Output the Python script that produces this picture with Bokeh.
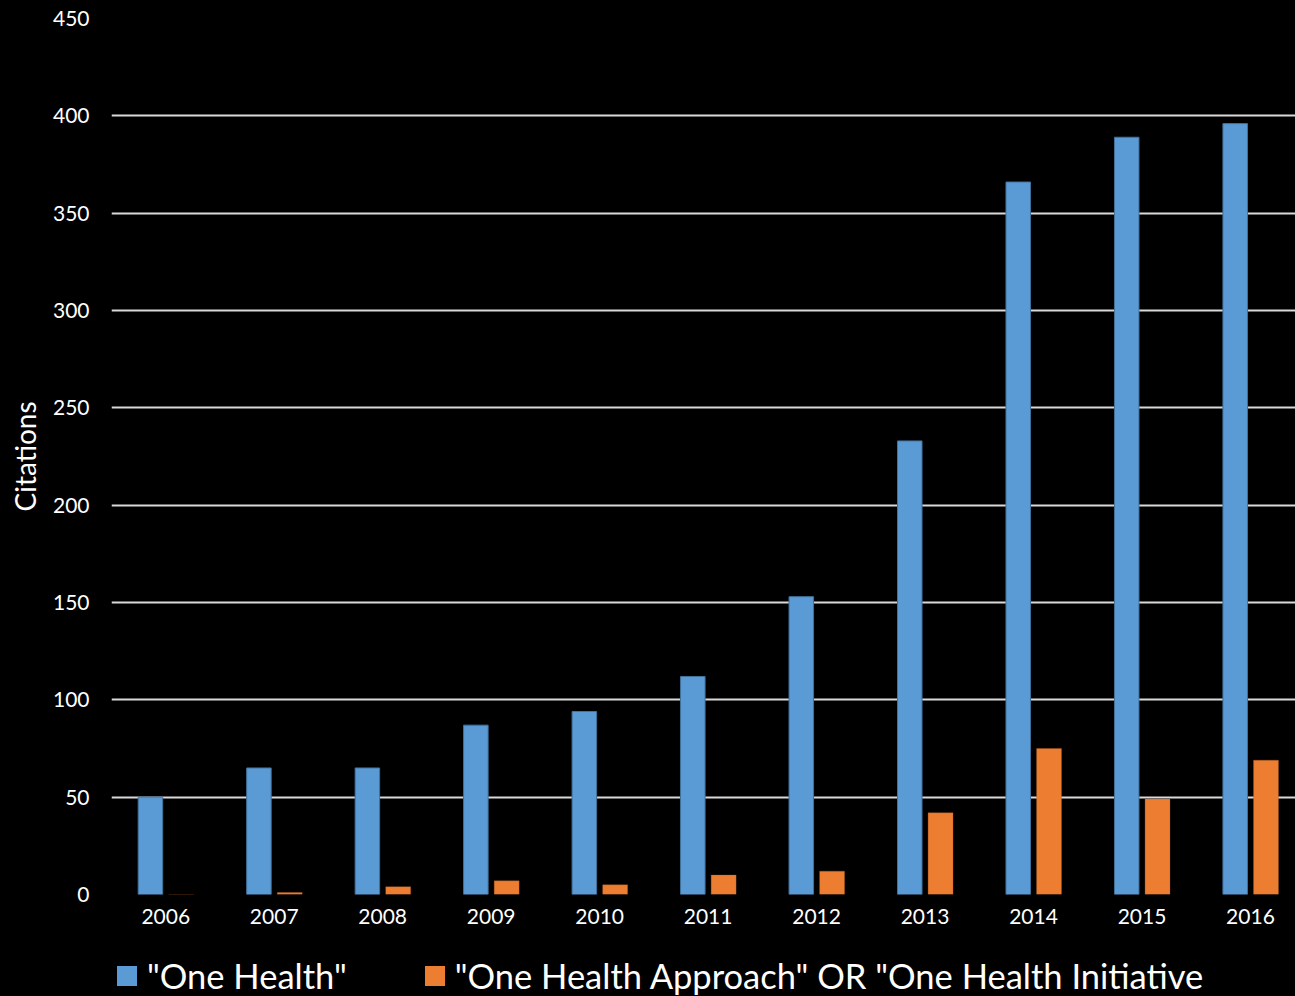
from bokeh.plotting import figure
from bokeh.models import ColumnDataSource, Range1d, FixedTicker, Legend, LegendItem
from bokeh.layouts import column
from bokeh.transform import dodge
from bokeh.embed import file_html
from bokeh.resources import INLINE

years = [2006, 2007, 2008, 2009, 2010, 2011, 2012, 2013, 2014, 2015, 2016]
one_health = [50, 65, 65, 87, 94, 112, 153, 233, 366, 389, 396]
approach_or_initiative = [0, 1, 4, 7, 5, 10, 12, 42, 75, 49, 69]
series_names = ['"One Health"', '"One Health Approach" OR "One Health Initiative']
y_ticks = [0, 50, 100, 150, 200, 250, 300, 350, 400, 450]

FONT = "Lato"
BLUE, BLUE_EDGE = "#5B9BD5", "#41719C"
ORANGE, ORANGE_EDGE = "#ED7D31", "#AE5A21"

src = ColumnDataSource(dict(year=years, a=one_health, b=approach_or_initiative))

p = figure(width=1295, height=940, output_backend="svg", toolbar_location=None,
           x_range=Range1d(2005.5, 2016.415), y_range=Range1d(0, 450),
           min_border_left=111, min_border_right=0, min_border_top=18, min_border_bottom=46)
p.background_fill_color = "black"
p.border_fill_color = "black"
p.outline_line_color = None
p.styles = {"background-color": "black"}

p.vbar(x=dodge("year", -0.141, range=p.x_range), top="a", width=0.226, source=src,
       fill_color=BLUE, line_color=BLUE_EDGE, line_width=1)
p.vbar(x=dodge("year", 0.143, range=p.x_range), top="b", width=0.23, source=src,
       fill_color=ORANGE, line_color=ORANGE_EDGE, line_width=0.5, line_alpha=0.6)

p.xaxis.ticker = FixedTicker(ticks=years)
p.yaxis.ticker = FixedTicker(ticks=y_ticks)
for ax in (p.xaxis[0], p.yaxis[0]):
    ax.axis_line_color = None
    ax.major_tick_line_color = None
    ax.minor_tick_line_color = None
    ax.major_tick_out = 0
    ax.major_tick_in = 0
    ax.major_label_text_color = "white"
    ax.major_label_text_font = FONT
    ax.major_label_text_font_size = "21px"
p.xaxis.major_label_standoff = 14
p.yaxis.major_label_standoff = 22
p.yaxis.axis_label = "Citations"
p.yaxis.axis_label_text_color = "white"
p.yaxis.axis_label_text_font = FONT
p.yaxis.axis_label_text_font_size = "28px"
p.yaxis.axis_label_text_font_style = "normal"
p.yaxis.axis_label_standoff = 8

p.xgrid.grid_line_color = None
p.ygrid.grid_line_color = "#D9D9D9"
p.ygrid.grid_line_width = 2

# legend strip below the chart (its swatch renderers lie outside its visible range)
lf = figure(width=1295, height=56, output_backend="svg", toolbar_location=None,
            x_range=Range1d(0, 1), y_range=Range1d(0, 1),
            min_border_left=111, min_border_right=0, min_border_top=0, min_border_bottom=0)
lf.background_fill_color = "black"
lf.border_fill_color = "black"
lf.outline_line_color = None
lf.axis.visible = False
lf.grid.visible = False
lf.styles = {"background-color": "black"}
g1 = lf.vbar(x="year", top="a", width=0.1, source=src, fill_color=BLUE, line_color=None)
g2 = lf.vbar(x="year", top="b", width=0.1, source=src, fill_color=ORANGE, line_color=None)
legend = Legend(items=[LegendItem(label=series_names[0], renderers=[g1]),
                       LegendItem(label=series_names[1], renderers=[g2])],
                location=(3, 0), orientation="horizontal",
                glyph_width=25, glyph_height=25, label_standoff=8, spacing=75,
                label_text_font=FONT, label_text_font_size="34.5px", label_text_color="white",
                padding=0, margin=0, border_line_color=None, background_fill_alpha=0)
lf.add_layout(legend, "center")

layout = column(p, lf, spacing=0)
layout.styles = {"background-color": "black"}

html = file_html(layout, INLINE)
html = html.replace("<body>", '<body style="margin:0;background:black">', 1)
open("out.html", "w").write(html)
